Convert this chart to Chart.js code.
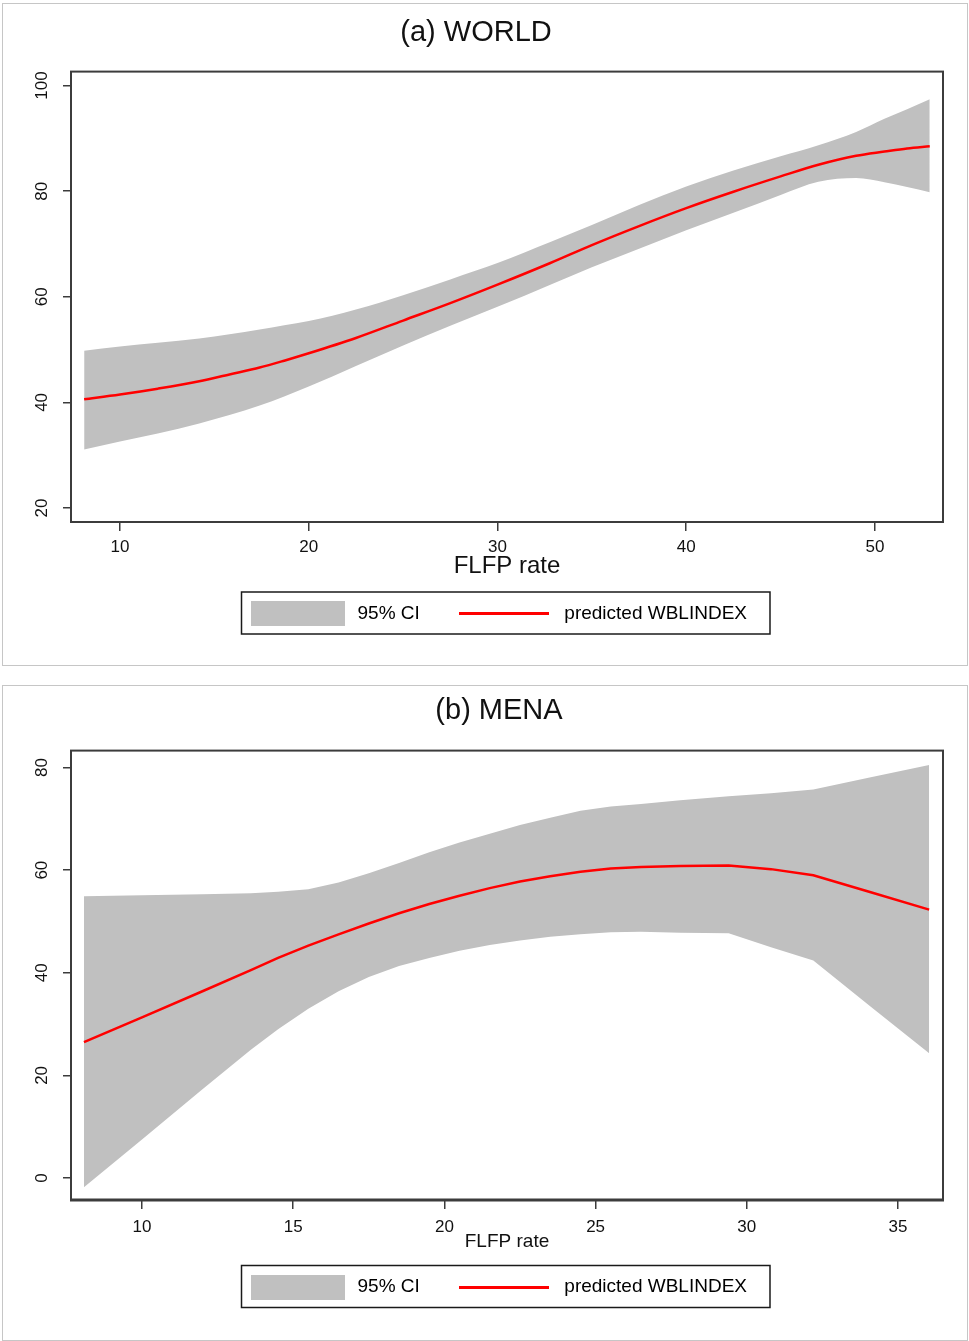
<!DOCTYPE html>
<html>
<head>
<meta charset="utf-8">
<script src="https://cdn.jsdelivr.net/npm/chart.js@4.4.0/dist/chart.umd.min.js"></script>
<style>
  html, body { margin: 0; padding: 0; background: #fff; }
  .panel { position: absolute; left: 2px; width: 966px; border: 1px solid #c6c6c6; box-sizing: border-box; background: #fff; }
  #pa { top: 3px; height: 663px; }
  #pb { top: 685px; height: 656px; }
  canvas { display: block; }
</style>
</head>
<body>
<div class="panel" id="pa"><canvas id="worldChart" width="964" height="661"></canvas></div>
<div class="panel" id="pb"><canvas id="menaChart" width="964" height="654"></canvas></div>
<script>
// (a) WORLD
const worldFlfp = [8.1, 10, 12, 14.2, 15.8, 17.4, 18.7, 20, 22.5, 25, 27.5, 30, 32.8, 35, 37.5, 40, 42.5, 45, 47, 49, 50.5, 51.7, 52.9];
const worldPred = [40.6, 41.5, 42.6, 44.0, 45.3, 46.6, 47.9, 49.3, 52.2, 55.5, 58.8, 62.3, 66.4, 69.8, 73.4, 76.8, 79.9, 82.8, 85.0, 86.7, 87.5, 88.1, 88.5];
const worldHi   = [49.8, 50.6, 51.3, 52.1, 52.9, 53.8, 54.6, 55.4, 57.6, 60.3, 63.3, 66.4, 70.4, 73.6, 77.4, 80.9, 83.9, 86.6, 88.7, 91.2, 93.7, 95.5, 97.4];
const worldLo   = [31.1, 32.6, 34.1, 36.0, 37.6, 39.4, 41.1, 43.0, 46.9, 50.8, 54.5, 58.1, 62.3, 65.6, 69.1, 72.6, 75.9, 79.3, 81.8, 82.5, 81.7, 80.8, 79.8];
const worldXTicks = [10, 20, 30, 40, 50];
const worldYTicks = [20, 40, 60, 80, 100];

// (b) MENA
const menaFlfp = [8.08, 10, 12, 13.6, 14.5, 15.5, 16.5, 17.5, 18.5, 19.5, 20.5, 21.5, 22.5, 23.5, 24.5, 25.5, 26.5, 27.8, 29.4, 30.8, 32.2, 34.1, 36.03];
const menaPred = [26.5, 31.3, 36.4, 40.5, 42.9, 45.3, 47.5, 49.6, 51.6, 53.4, 55.0, 56.5, 57.8, 58.8, 59.7, 60.3, 60.6, 60.8, 60.9, 60.2, 59.0, 55.7, 52.3];
const menaHi   = [54.9, 55.1, 55.3, 55.5, 55.8, 56.3, 57.6, 59.4, 61.4, 63.5, 65.4, 67.1, 68.8, 70.2, 71.6, 72.4, 72.9, 73.6, 74.4, 75.0, 75.7, 78.1, 80.5];
const menaLo   = [-1.8, 7.5, 17.3, 25.0, 29.0, 33.0, 36.4, 39.2, 41.3, 42.9, 44.3, 45.4, 46.3, 47.0, 47.5, 47.9, 48.0, 47.8, 47.7, 45.0, 42.4, 33.4, 24.3];
const menaXTicks = [10, 15, 20, 25, 30, 35];
const menaYTicks = [0, 20, 40, 60, 80];

const RED = '#ff0000';
const BAND = '#c0c0c0';
const AXIS = '#3c3c3c';
const TEXT = '#111111';

Chart.defaults.font.family = '"Liberation Sans", Arial, sans-serif';
Chart.defaults.color = TEXT;

const pts = (xs, ys) => xs.map((x, i) => ({ x: x, y: ys[i] }));

function legendIcon(w, h, color) {
    const c = document.createElement('canvas');
    c.width = w;
    c.height = h;
    const g = c.getContext('2d');
    g.fillStyle = color;
    g.fillRect(0, 0, w, h);
    return c;
}
const ciIcon = legendIcon(94, 25, BAND);
const lineIcon = legendIcon(90, 3, RED);

// box round the plot area and round the legend, small nudges of title / legend
const framePlugin = {
    id: 'frame',
    afterLayout(chart, args, opts) {
        chart.legend.left += opts.legendShift;
        chart.legend.right += opts.legendShift;
        chart.titleBlock.left += opts.titleShift;
        chart.titleBlock.right += opts.titleShift;
    },
    afterDatasetsDraw(chart, args, opts) {
        const { ctx, chartArea: a } = chart;
        ctx.save();
        ctx.strokeStyle = AXIS;
        ctx.lineWidth = 2;
        ctx.strokeRect(a.left, a.top, a.right - a.left, a.bottom - a.top);
        if (opts.bottomWidth) {
            ctx.lineWidth = opts.bottomWidth;
            ctx.beginPath();
            ctx.moveTo(a.left - 1, a.bottom);
            ctx.lineTo(a.right + 1, a.bottom);
            ctx.stroke();
        }
        ctx.restore();
    },
    afterDraw(chart) {
        const hb = chart.legend.legendHitBoxes;
        if (!hb || hb.length < 2) return;
        const ctx = chart.ctx;
        const left = hb[0].left - 5.5;
        const right = hb[1].left + hb[1].width + 23;
        const top = hb[0].top - 12;
        ctx.save();
        ctx.strokeStyle = '#1a1a1a';
        ctx.lineWidth = 1.5;
        ctx.strokeRect(left, top, right - left, 42);
        ctx.restore();
    }
};

function makeChart(id, cfg) {
    new Chart(document.getElementById(id), {
        type: 'line',
        data: {
            datasets: [
                {
                    label: 'predicted WBLINDEX',
                    data: pts(cfg.xs, cfg.pred),
                    borderColor: RED,
                    borderWidth: 2.5,
                    pointRadius: 0,
                    fill: false,
                    cubicInterpolationMode: cfg.curve,
                    order: 0
                },
                {
                    label: '95% CI',
                    data: pts(cfg.xs, cfg.hi),
                    borderWidth: 0,
                    borderColor: 'rgba(0,0,0,0)',
                    backgroundColor: BAND,
                    pointRadius: 0,
                    fill: '+1',
                    cubicInterpolationMode: cfg.curve,
                    order: 1
                },
                {
                    label: 'lower',
                    data: pts(cfg.xs, cfg.lo),
                    borderWidth: 0,
                    borderColor: 'rgba(0,0,0,0)',
                    pointRadius: 0,
                    fill: false,
                    cubicInterpolationMode: cfg.curve,
                    order: 2
                }
            ]
        },
        options: {
            responsive: false,
            animation: false,
            events: [],
            layout: { padding: { left: 0, right: 24, top: 0, bottom: cfg.padBottom } },
            scales: {
                x: {
                    type: 'linear',
                    min: cfg.xMin,
                    max: cfg.xMax,
                    afterBuildTicks: s => { s.ticks = cfg.xTicks.map(v => ({ value: v })); },
                    afterFit: s => { s.height = cfg.xAxisH; },
                    grid: { display: true, drawOnChartArea: false, drawTicks: true, tickLength: 9, color: AXIS, lineWidth: 1.5 },
                    border: { display: false },
                    ticks: { font: { size: 17 }, padding: cfg.xTickPad, color: TEXT, maxRotation: 0, autoSkip: false },
                    title: { display: true, text: 'FLFP rate', color: TEXT, font: { size: cfg.xTitleSize }, padding: { top: 0, bottom: cfg.xTitlePad } }
                },
                y: {
                    min: cfg.yMin,
                    max: cfg.yMax,
                    afterBuildTicks: s => { s.ticks = cfg.yTicks.map(v => ({ value: v })); },
                    afterFit: s => { s.width = 68; },
                    grid: { display: true, drawOnChartArea: false, drawTicks: true, tickLength: 8, color: AXIS, lineWidth: 1.5 },
                    border: { display: false },
                    ticks: { font: { size: 17 }, color: TEXT, minRotation: 90, maxRotation: 90, crossAlign: 'center', padding: cfg.yTickPad }
                }
            },
            plugins: {
                title: {
                    display: true,
                    text: cfg.title,
                    color: TEXT,
                    font: { size: 29, weight: 'normal' },
                    padding: { top: cfg.titleTop, bottom: cfg.titleBottom }
                },
                legend: {
                    position: 'bottom',
                    fullSize: false,
                    onClick: null,
                    labels: {
                        usePointStyle: true,
                        pointStyleWidth: 101,
                        padding: 34,
                        color: TEXT,
                        font: { size: 19 },
                        generateLabels: () => [
                            { text: '95% CI', pointStyle: ciIcon, fillStyle: BAND, strokeStyle: BAND, lineWidth: 0, hidden: false, datasetIndex: 1 },
                            { text: 'predicted WBLINDEX', pointStyle: lineIcon, fillStyle: RED, strokeStyle: RED, lineWidth: 0, hidden: false, datasetIndex: 0 }
                        ]
                    }
                },
                tooltip: { enabled: false },
                frame: { bottomWidth: cfg.bottomWidth, legendShift: -10, titleShift: cfg.titleShift }
            }
        },
        plugins: [framePlugin]
    });
}

makeChart('worldChart', {
    title: '(a) WORLD',
    xs: worldFlfp, pred: worldPred, hi: worldHi, lo: worldLo, curve: 'monotone',
    xTicks: worldXTicks, yTicks: worldYTicks,
    xMin: 7.404, xMax: 53.603, yMin: 17.35, yMax: 102.65,
    titleTop: 11.6, titleBottom: 21.2, titleShift: 3,
    xAxisH: 48, xTickPad: 5.8, xTitleSize: 24, xTitlePad: -10.4,
    yTickPad: 6.8, padBottom: 32, bottomWidth: 0
});

makeChart('menaChart', {
    title: '(b) MENA',
    xs: menaFlfp, pred: menaPred, hi: menaHi, lo: menaLo, curve: 'default',
    xTicks: menaXTicks, yTicks: menaYTicks,
    xMin: 7.652, xMax: 36.488, yMin: -4.28, yMax: 83.3,
    titleTop: 7.8, titleBottom: 22, titleShift: 26,
    xAxisH: 43.5, xTickPad: 7.8, xTitleSize: 19, xTitlePad: -9.9,
    yTickPad: 11.5, padBottom: 33.5, bottomWidth: 3
});
</script>
</body>
</html>
